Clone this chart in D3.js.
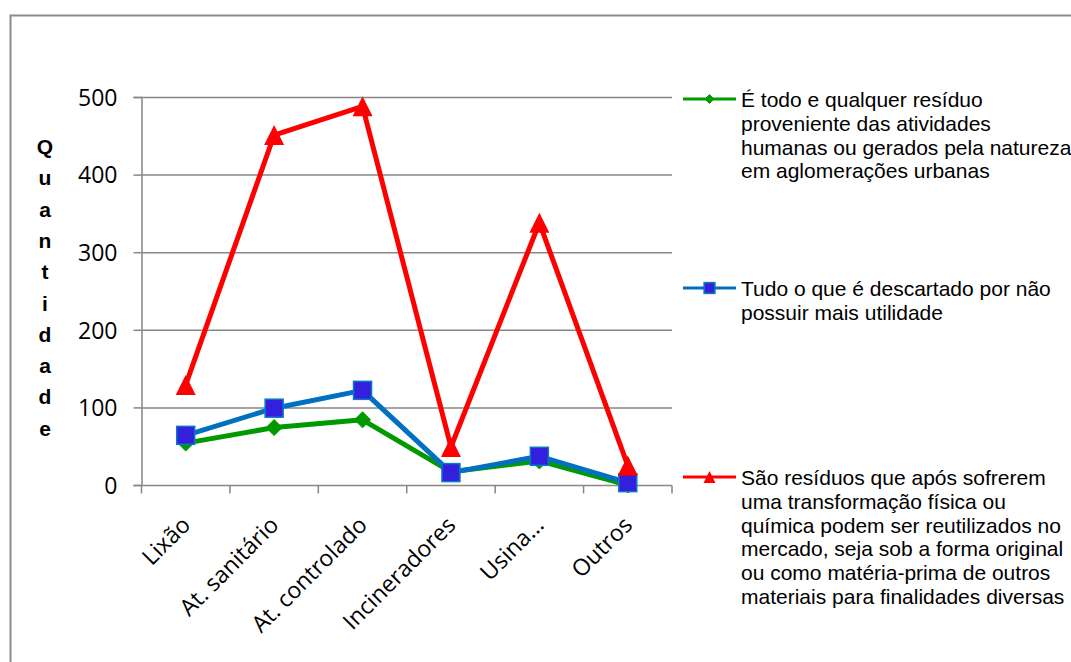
<!DOCTYPE html>
<html>
<head>
<meta charset="utf-8">
<script src="https://cdn.jsdelivr.net/npm/d3@7"></script>
<style>
  html, body { margin: 0; padding: 0; background: #fff; overflow: hidden; }
  svg { display: block; }
  .axis-label { font-family: "Open Sans", sans-serif; }
</style>
</head>
<body>
<svg id="chart" width="1071" height="662"></svg>
<script>
// Waste destinations (categories) and the three series of counts
const categories = ["Lixão", "At. sanitário", "At. controlado", "Incineradores", "Usina...", "Outros"];
const seriesNames = [
  "É todo e qualquer resíduo proveniente das atividades humanas ou gerados pela natureza em aglomerações urbanas",
  "Tudo o que é descartado por não possuir mais utilidade",
  "São resíduos que após sofrerem uma transformação física ou química podem ser reutilizados no mercado, seja sob a forma original ou como matéria-prima de outros materiais para finalidades diversas"
];
const valuesGreen = [54, 74, 84, 17, 31, 0];
const valuesBlue = [64, 99, 122, 16, 37, 3];
const valuesRed = [129, 451, 488, 49, 338, 25];
const yTicks = [0, 100, 200, 300, 400, 500];
const axisTitle = "Quantidade";

// Legend text broken into lines as laid out beside the plot
const legendLines = [
  ["É todo e qualquer resíduo", "proveniente das atividades", "humanas ou gerados pela natureza", "em aglomerações urbanas"],
  ["Tudo o que é descartado por não", "possuir mais utilidade"],
  ["São resíduos que após sofrerem", "uma transformação física ou", "química podem ser reutilizados no", "mercado, seja sob a forma original", "ou como matéria-prima de outros", "materiais para finalidades diversas"]
];

const svg = d3.select("#chart");

// outer chart frame
svg.append("rect")
  .attr("x", 10.5).attr("y", 15.5)
  .attr("width", 1200).attr("height", 800)
  .attr("fill", "none").attr("stroke", "#8c8c8c").attr("stroke-width", 2);

const plot = { left: 141.5, right: 672, top: 97, bottom: 485 };

const x = d3.scaleBand().domain(categories).range([plot.left, plot.right]).padding(0);
const y = d3.scaleLinear().domain([0, 500]).range([plot.bottom, plot.top]);

const gridColor = "#878787";

// horizontal gridlines
svg.append("g").selectAll("line")
  .data(yTicks.filter(d => d > 0))
  .join("line")
  .attr("x1", plot.left).attr("x2", plot.right)
  .attr("y1", d => y(d) + 0.5).attr("y2", d => y(d) + 0.5)
  .attr("stroke", gridColor).attr("stroke-width", 1.5);

// y axis
const yAxis = svg.append("g")
  .attr("transform", `translate(${plot.left},0)`)
  .call(d3.axisLeft(y).tickValues(yTicks).tickSize(8).tickPadding(16));
yAxis.attr("font-family", null).attr("font-size", null);
yAxis.select(".domain").attr("stroke", gridColor).attr("stroke-width", 1.5);
yAxis.selectAll(".tick line").attr("stroke", gridColor).attr("stroke-width", 1.5);
yAxis.selectAll(".tick text")
  .attr("class", "axis-label")
  .style("font-size", "23px").attr("fill", "#000").attr("dy", "0.36em");

// x axis with ticks at category boundaries
const xAxisG = svg.append("g").attr("transform", `translate(0,${plot.bottom + 0.5})`);
xAxisG.append("line")
  .attr("x1", plot.left).attr("x2", plot.right)
  .attr("stroke", gridColor).attr("stroke-width", 1.5);
const boundaries = categories.map(c => x(c)).concat([plot.right]);
xAxisG.selectAll("line.tk")
  .data(boundaries)
  .join("line").attr("class", "tk")
  .attr("x1", d => d).attr("x2", d => d)
  .attr("y1", 0).attr("y2", 8)
  .attr("stroke", gridColor).attr("stroke-width", 1.5);
xAxisG.selectAll("text")
  .data(categories)
  .join("text")
  .attr("class", "axis-label")
  .attr("transform", d => `translate(${x(d) + x.bandwidth() / 2 + 6},${41}) rotate(-45)`)
  .attr("text-anchor", "end")
  .style("font-size", "23px")
  .attr("fill", "#000")
  .text(d => d);

// vertical stacked axis title
svg.append("g").selectAll("text")
  .data(axisTitle.split(""))
  .join("text")
  .attr("x", 45)
  .attr("y", (d, i) => 154 + i * 31.3)
  .attr("text-anchor", "middle")
  .attr("font-family", "'Liberation Sans', Arial, sans-serif")
  .attr("font-weight", "bold")
  .attr("font-size", 21)
  .attr("fill", "#000")
  .text(d => d);

const cx = d => x(d) + x.bandwidth() / 2;
const line = d3.line().x((d, i) => cx(categories[i])).y(d => y(d));

const series = [
  { values: valuesGreen, color: "#009a00", shape: "diamond" },
  { values: valuesBlue, color: "#0070c0", shape: "square" },
  { values: valuesRed, color: "#ff0000", shape: "triangle" }
];

function drawMarker(g, shape, px, py, scale) {
  const s = scale || 1;
  if (shape === "diamond") {
    const r = 8 * s;
    g.append("path")
      .attr("d", `M${px},${py - r}L${px + r},${py}L${px},${py + r}L${px - r},${py}Z`)
      .attr("fill", "#009a00").attr("stroke", "#009a00").attr("stroke-width", 1);
  } else if (shape === "square") {
    const h = 9 * s;
    g.append("rect")
      .attr("x", px - h).attr("y", py - h).attr("width", 2 * h).attr("height", 2 * h)
      .attr("fill", "#3320dc").attr("stroke", "#0a78c8").attr("stroke-width", 1.5);
  } else {
    const h = 10 * s;
    g.append("path")
      .attr("d", `M${px},${py - h}L${px + h},${py + h}L${px - h},${py + h}Z`)
      .attr("fill", "#ff0000");
  }
}

series.forEach(sr => {
  const g = svg.append("g");
  g.append("path")
    .datum(sr.values)
    .attr("d", line)
    .attr("fill", "none")
    .attr("stroke", sr.color)
    .attr("stroke-width", 5)
    .attr("stroke-linejoin", "round");
  sr.values.forEach((v, i) => drawMarker(g, sr.shape, cx(categories[i]), y(v), 1));
});

// legend
const legendY = [99, 288, 477];
const legend = svg.append("g");
series.forEach((sr, k) => {
  const ly = legendY[k];
  legend.append("line")
    .attr("x1", 683).attr("x2", 736)
    .attr("y1", ly).attr("y2", ly)
    .attr("stroke", sr.color).attr("stroke-width", 3);
  drawMarker(legend, sr.shape, 709.5, ly, sr.shape === "diamond" ? 0.55 : 0.6);
  legend.append("text")
    .attr("x", 741)
    .attr("font-family", "'Liberation Sans', Arial, sans-serif")
    .attr("font-size", 21)
    .attr("fill", "#000")
    .selectAll("tspan")
    .data(legendLines[k])
    .join("tspan")
    .attr("x", 741)
    .attr("y", (d, i) => ly + 8 + i * 23.8)
    .text(d => d);
});
</script>
</body>
</html>
